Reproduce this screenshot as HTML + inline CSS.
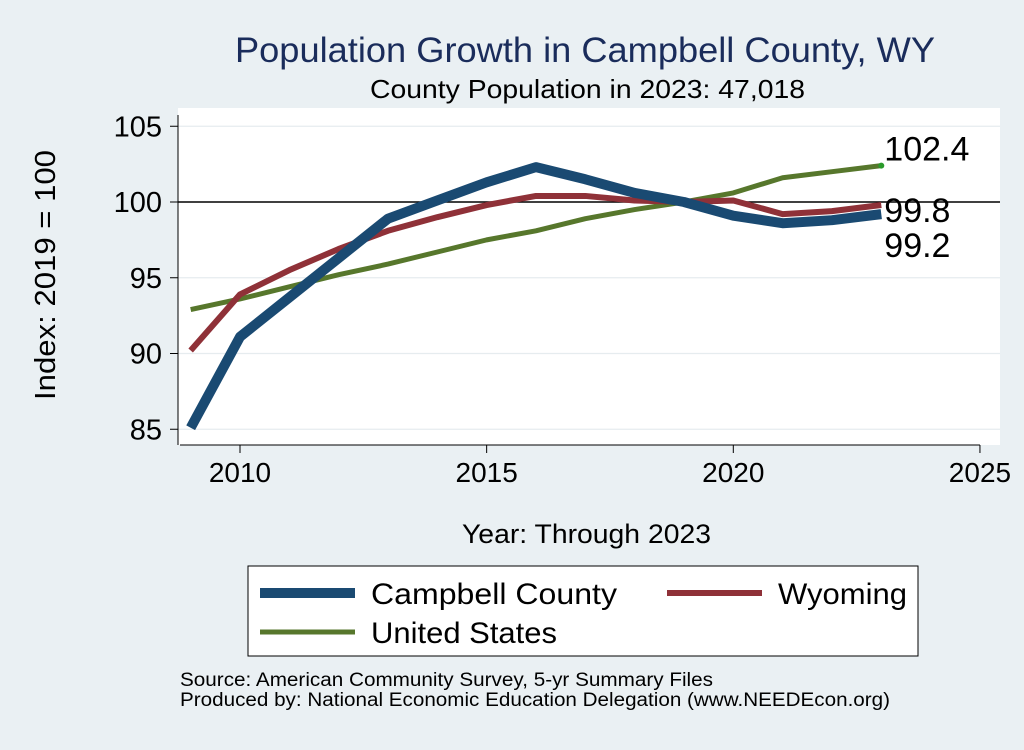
<!DOCTYPE html>
<html><head><meta charset="utf-8"><style>
body{margin:0;background:#eaf0f3;}
svg text{font-family:"Liberation Sans",sans-serif;}
</style></head><body>
<svg id="c" width="1024" height="745" xmlns="http://www.w3.org/2000/svg">
<rect x="0" y="0" width="1024" height="745" fill="#eaf0f3"/>
<rect x="178" y="108" width="822" height="337" fill="#ffffff"/>
<text x="235" y="62" font-size="35" textLength="700" lengthAdjust="spacingAndGlyphs" fill="#1a2c5b">Population Growth in Campbell County, WY</text>
<text x="370" y="98" font-size="26" textLength="435" lengthAdjust="spacingAndGlyphs" fill="#000">County Population in 2023: 47,018</text>
<g id="grid"></g>
<g id="axes"></g>
<g id="series"></g>
<text x="462" y="543" font-size="27" textLength="249" lengthAdjust="spacingAndGlyphs">Year: Through 2023</text>
<text transform="translate(55,400) rotate(-90)" font-size="29" textLength="250" lengthAdjust="spacingAndGlyphs">Index: 2019 = 100</text>
<g>
<rect x="248" y="566" width="670" height="90" fill="#fff" stroke="#000" stroke-width="1"/>
<line x1="260" y1="593" x2="355" y2="593" stroke="#1a4a72" stroke-width="10"/>
<text x="371" y="604" font-size="30" textLength="246" lengthAdjust="spacingAndGlyphs">Campbell  County</text>
<line x1="667" y1="593" x2="762" y2="593" stroke="#8f3138" stroke-width="6"/>
<text x="778" y="604" font-size="30" textLength="129" lengthAdjust="spacingAndGlyphs">Wyoming</text>
<line x1="260" y1="632" x2="355" y2="632" stroke="#57772c" stroke-width="5"/>
<text x="371" y="643" font-size="30" textLength="186" lengthAdjust="spacingAndGlyphs">United States</text>
</g>
<text x="180" y="686" font-size="19" textLength="533" lengthAdjust="spacingAndGlyphs">Source: American Community Survey, 5-yr Summary Files</text>
<text x="180" y="706" font-size="19" textLength="710" lengthAdjust="spacingAndGlyphs">Produced by: National Economic Education Delegation (www.NEEDEcon.org)</text>
</svg>
<script>
const years=[2009,2010,2011,2012,2013,2014,2015,2016,2017,2018,2019,2020,2021,2022,2023];
const campbell=[85.1,91.1,93.7,96.3,98.9,100.1,101.3,102.3,101.5,100.6,100,99.1,98.6,98.8,99.2];
const wyoming=[90.2,93.9,95.5,96.9,98.1,99.0,99.8,100.4,100.4,100.1,100,100.1,99.2,99.4,99.8];
const us=[92.9,93.6,94.4,95.2,95.9,96.7,97.5,98.1,98.9,99.5,100,100.6,101.6,102.0,102.4];
const yTicks=[85,90,95,100,105];
const xTicks=[2010,2015,2020,2025];
const NS='http://www.w3.org/2000/svg';
const sx=v=>240+(v-2010)*49.33;
const sy=v=>202-(v-100)*15.15;
function mk(tag,attrs,parent,txt){const e=document.createElementNS(NS,tag);for(const k in attrs)e.setAttribute(k,attrs[k]);if(txt!==undefined)e.textContent=txt;document.getElementById(parent).appendChild(e);return e;}
yTicks.forEach(t=>{
 let g=mk('line',{x1:178,x2:1000,y1:sy(t),y2:sy(t),stroke:t===100?'#000':'#e6ecef','stroke-width':t===100?1.5:1.2},'grid');
 
 
 let k=mk('line',{x1:170,x2:178,y1:sy(t),y2:sy(t),stroke:'#000'},'axes');
 
 
 let l=mk('text',{x:162,y:sy(t)+10,'font-size':29,'text-anchor':'end'},'axes',t);
 
 
});
xTicks.forEach(t=>{
 let k=mk('line',{x1:sx(t),x2:sx(t),y1:445,y2:453,stroke:'#000'},'axes');
 
 
 let l=mk('text',{x:sx(t),y:482,'font-size':28,'text-anchor':'middle'},'axes',t);
 
 
});
let ax=mk('line',{x1:178,x2:178,y1:115,y2:445,stroke:'#000'},'axes');


let bx=mk('line',{x1:180,x2:sx(2025),y1:445,y2:445,stroke:'#000'},'axes');


function line(vals,color,w,name){
 const p=mk('polyline',{points:vals.map((v,i)=>sx(years[i])+','+sy(v)).join(' '),fill:'none',stroke:color,'stroke-width':w,'stroke-linejoin':'round'},'series');
 
 
}
line(us,'#57772c',5,'line-united-states');
line(wyoming,'#8f3138',6,'line-wyoming');
line(campbell,'#1a4a72',10,'line-campbell-county');
const last=years.length-1;
let d=mk('circle',{cx:sx(years[last]),cy:sy(us[last]),r:3,fill:'#2a9a2a'},'series');


[[us,-5,'label-us-end'],[wyoming,17,'label-wyoming-end'],[campbell,43,'label-campbell-end']].forEach(([a,dy,n])=>{
 const t=mk('text',{x:sx(years[last])+3,y:sy(a[last])+dy,'font-size':34},'series',a[last].toFixed(1));
 
 
});
</script>
</body></html>
